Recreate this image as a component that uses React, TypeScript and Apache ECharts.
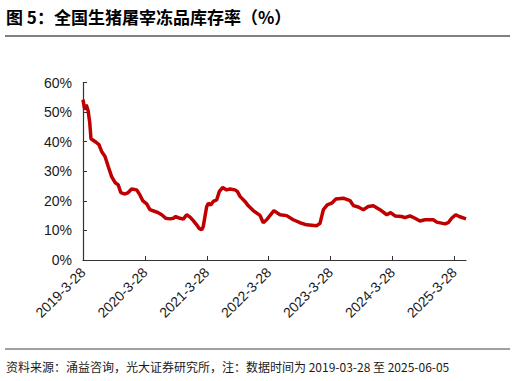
import React, { useEffect, useRef } from "react";
import * as echarts from "echarts";

const dates: string[] = [
  "2019-03-28", "2019-04-07", "2019-04-16", "2019-04-27", "2019-05-07", "2019-05-14",
  "2019-06-13", "2019-06-30", "2019-07-16", "2019-08-05", "2019-08-24", "2019-09-13",
  "2019-10-03", "2019-10-22", "2019-11-06", "2019-12-01", "2019-12-20", "2020-01-09",
  "2020-02-08", "2020-02-27", "2020-03-14", "2020-04-07", "2020-04-26", "2020-05-26",
  "2020-06-14", "2020-07-05", "2020-07-28", "2020-08-23", "2020-09-11", "2020-09-25",
  "2020-10-21", "2020-11-09", "2020-11-29", "2020-12-19", "2021-01-07", "2021-01-27",
  "2021-02-10", "2021-02-26", "2021-03-07", "2021-03-17", "2021-03-27", "2021-04-06",
  "2021-04-20", "2021-05-05", "2021-05-25", "2021-06-10", "2021-06-30", "2021-07-23",
  "2021-08-12", "2021-09-10", "2021-09-24", "2021-10-10", "2021-11-08", "2021-11-28",
  "2021-12-27", "2022-02-05", "2022-02-24", "2022-03-16", "2022-04-28", "2022-06-03",
  "2022-07-12", "2022-08-20", "2022-09-29", "2022-11-07", "2023-01-06", "2023-01-25",
  "2023-02-14", "2023-03-09", "2023-04-04", "2023-04-29", "2023-06-12", "2023-07-21",
  "2023-08-10", "2023-09-08", "2023-10-08", "2023-11-06", "2023-12-06", "2024-01-14",
  "2024-02-23", "2024-03-17", "2024-04-12", "2024-05-21", "2024-06-10", "2024-07-09",
  "2024-08-08", "2024-09-06", "2024-10-06", "2024-11-24", "2024-12-14", "2025-02-01",
  "2025-02-20", "2025-03-12", "2025-04-05", "2025-04-26", "2025-06-05",
];

const rates: number[] = [
  54.2, 50.8, 52.5, 50.5, 46.3, 41.0,
  39.8, 39.0, 36.7, 35.0, 31.6, 28.2,
  26.2, 25.4, 22.8, 22.3, 22.8, 24.0,
  23.7, 22.0, 20.1, 19.0, 17.0, 16.4,
  16.0, 15.3, 14.1, 13.9, 14.1, 14.7,
  14.1, 13.8, 15.3, 14.5, 13.3, 11.9,
  10.7, 10.2, 11.3, 14.7, 18.0, 19.2,
  18.6, 19.8, 20.3, 23.2, 24.5, 23.7,
  24.0, 23.7, 23.2, 21.5, 19.8, 18.3,
  16.7, 15.1, 12.6, 13.6, 16.7, 15.3,
  15.0, 13.6, 12.6, 11.9, 11.6, 12.4,
  17.0, 18.6, 19.2, 20.6, 20.9, 20.1,
  18.4, 17.9, 17.0, 18.1, 18.3, 17.0,
  15.3, 16.0, 14.9, 14.7, 14.3, 14.9,
  14.1, 13.2, 13.6, 13.6, 12.8, 12.2,
  12.6, 14.1, 15.3, 14.7, 13.9,
];

const tickDates: string[] = [
  "2019-03-28", "2020-03-28", "2021-03-28", "2022-03-28", "2023-03-28", "2024-03-28", "2025-03-28",
];
const tickLabels: string[] = [
  "2019-3-28", "2020-3-28", "2021-3-28", "2022-3-28", "2023-3-28", "2024-3-28", "2025-3-28",
];

const startDate = "2019-03-28";
const endDate = "2025-06-05";
const titleText = "图 5：全国生猪屠宰冻品库存率（%）";
const sourceText = "资料来源：涌益咨询，光大证券研究所，注：数据时间为 2019-03-28 至 2025-06-05";

const DAY = 86400000;
const dayOffset = (d: string) => Math.round((Date.parse(d) - Date.parse(startDate)) / DAY);

export default function App() {
  const ref = useRef<HTMLDivElement>(null);
  useEffect(() => {
    document.body.style.margin = "0";
    if (!ref.current) return;
    const chart = echarts.init(ref.current, null, { renderer: "svg" });
    const tickOffsets = tickDates.map(dayOffset);
    const labelMap: Record<number, string> = {};
    tickOffsets.forEach((o, i) => (labelMap[o] = tickLabels[i]));
    const cjk = "'Noto Sans CJK SC', 'Liberation Sans', sans-serif";
    const latin = "'Liberation Sans', Arial, sans-serif";
    chart.setOption({
      animation: false,
      backgroundColor: "#ffffff",
      grid: { left: 83, right: 49, top: 82.5, bottom: 121, containLabel: false },
      xAxis: {
        type: "value",
        min: 0,
        max: dayOffset(endDate),
        splitLine: { show: false },
        axisLine: { show: true, lineStyle: { color: "#333333", width: 1.2 } },
        axisTick: {
          show: true,
          inside: true,
          length: 4,
          customValues: tickOffsets,
          lineStyle: { color: "#333333" },
        },
        axisLabel: {
          customValues: tickOffsets,
          rotate: 45,
          margin: 10,
          fontSize: 14,
          color: "#1a1a1a",
          fontFamily: latin,
          formatter: (v: number) => labelMap[Math.round(v)] ?? "",
        },
      },
      yAxis: {
        type: "value",
        min: 0,
        max: 60,
        interval: 10,
        splitLine: { show: false },
        axisLine: { show: true, lineStyle: { color: "#333333", width: 1.2 } },
        axisTick: { show: true, inside: true, length: 4, lineStyle: { color: "#333333" } },
        axisLabel: {
          formatter: "{value}%",
          fontSize: 14,
          margin: 11,
          color: "#1a1a1a",
          fontFamily: latin,
        },
      },
      series: [
        {
          type: "line",
          data: dates.map((d, i) => [dayOffset(d), rates[i]]),
          showSymbol: false,
          symbol: "none",
          smooth: false,
          lineStyle: { color: "#C00000", width: 3.5 },
        },
      ],
      graphic: [
        {
          type: "text",
          left: 6,
          top: 8,
          style: { text: titleText, fontSize: 17, fontWeight: "bold", fill: "#000000", fontFamily: cjk },
        },
        {
          type: "line",
          shape: { x1: 5, y1: 36, x2: 510, y2: 36 },
          style: { stroke: "#808080", lineWidth: 2 },
        },
        {
          type: "line",
          shape: { x1: 5, y1: 349, x2: 510, y2: 349 },
          style: { stroke: "#808080", lineWidth: 1.5 },
        },
        {
          type: "text",
          left: 6,
          top: 360,
          style: { text: sourceText, fontSize: 12, fill: "#1a1a1a", fontFamily: cjk },
        },
      ],
    });
    return () => chart.dispose();
  }, []);
  return <div ref={ref} style={{ width: 515, height: 381 }} />;
}
